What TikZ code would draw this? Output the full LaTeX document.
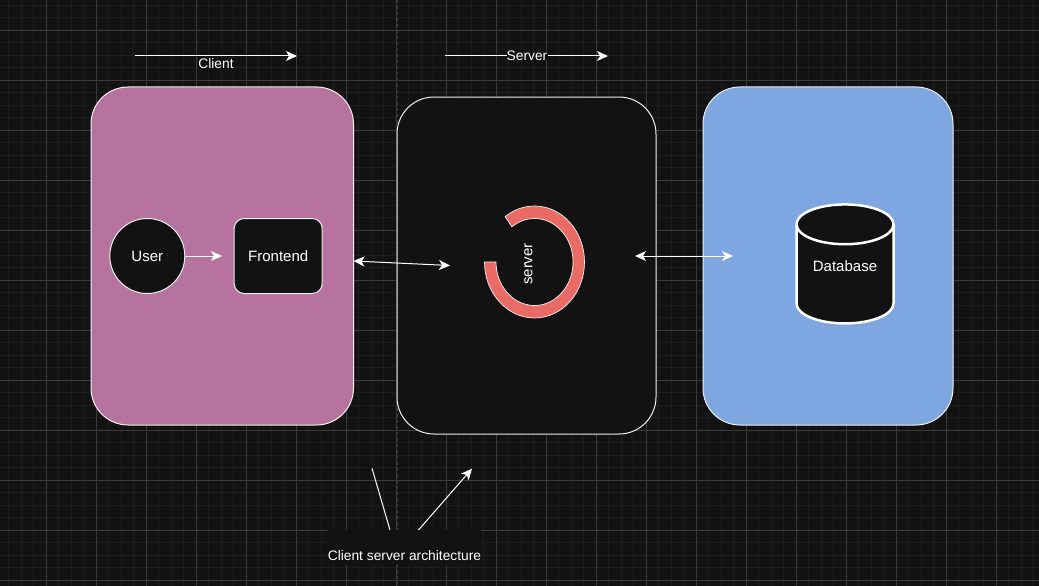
\documentclass[tikz,border=0pt]{standalone}
\usepackage{fontspec}
\setmainfont{Liberation Sans}
\usetikzlibrary{arrows.meta,shapes.geometric}
\definecolor{canvas}{HTML}{121212}
\definecolor{gridminor}{HTML}{1D1D1D}
\definecolor{gridmajor}{HTML}{3A3A3A}
\definecolor{clientfill}{HTML}{B5739D}
\definecolor{dbfill}{HTML}{7EA6E0}
\definecolor{ringfill}{HTML}{EA6B66}
\definecolor{boxline}{HTML}{F0F0F0}
\tikzset{
    >={Stealth[length=11pt,width=10pt,inset=3pt]},
    label/.style={text=white, font=\fontsize{13.8}{16}\selectfont, inner sep=0pt, outer sep=0pt},
    biglabel/.style={label, font=\fontsize{15}{17}\selectfont},
    tier/.style={rectangle, draw=boxline, line width=1pt, rounded corners=37pt, outer sep=0pt},
    link/.style={draw=white, line width=1pt}
}
\begin{document}
\begin{tikzpicture}[x=1pt, y=1pt]
        \useasboundingbox (0,0) rectangle (1039,-586);
        \fill[canvas] (0,0) rectangle (1039,-586);
        % Grid
        \foreach \i in {0,...,83} {
            \draw[gridminor, line width=0.8pt] ({8.5+12.5*\i},0) -- ({8.5+12.5*\i},-586);
        }
        \foreach \i in {0,...,47} {
            \draw[gridminor, line width=0.8pt] (0,{-5-12.5*\i}) -- (1039,{-5-12.5*\i});
        }
        \foreach \i in {0,...,20} {
            \draw[gridmajor, line width=0.8pt] ({46+50*\i},0) -- ({46+50*\i},-586);
        }
        \foreach \i in {0,...,11} {
            \draw[gridmajor, line width=0.8pt] (0,{-30-50*\i}) -- (1039,{-30-50*\i});
        }
        \draw[gridmajor, line width=1pt, dashed] (397,0) -- (397,-586);

        % Tiers
        \node[tier, fill=clientfill, minimum width=262.5pt, minimum height=338pt] (clientbox) at (222.25,-256) {};
        \node[tier, fill=canvas, minimum width=259pt, minimum height=337pt] (serverbox) at (526.5,-265.5) {};
        \node[tier, fill=dbfill, minimum width=250pt, minimum height=338pt] (dbbox) at (828,-256) {};

        % Nodes
        \node[circle, draw=boxline, line width=1pt, fill=canvas, biglabel, minimum size=75pt] (user) at (147.3,-256) {User};
        \node[rectangle, draw=boxline, line width=1pt, fill=canvas, rounded corners=10pt, biglabel, minimum width=88pt, minimum height=75pt] (frontend) at (278.2,-256) {Frontend};
        \node[cylinder, shape border rotate=90, aspect=0.62, draw=white, line width=2.5pt, fill=canvas, biglabel, minimum width=97pt, minimum height=119pt] (database) at (845,-274.5) {\phantom{Database}};
        \node[biglabel] (dbtext) at (845,-266) {Database};

        % Server ring
        \draw[draw=boxline, line width=0.7pt, fill=ringfill] (484.5,-262)
            arc[start angle=180, end angle=486, x radius=50pt, y radius=56pt]
            -- (511.9,-226.8)
            arc[start angle=486, end angle=180, x radius=38.5pt, y radius=43.5pt]
            -- cycle;
        \node[biglabel, rotate=90] (ringtext) at (528.5,-264) {server};

        % Free ends
        \coordinate (clientstart) at (134.5,-56);
        \coordinate (clientend) at (297,-56);
        \coordinate (serverstart) at (445,-56);
        \coordinate (serverend) at (608,-56);
        \coordinate (userout) at (222,-256);
        \coordinate (ringin) at (450,-265.5);
        \coordinate (ringout) at (635,-256);
        \coordinate (dbin) at (733,-256);
        \coordinate (leftend) at (372,-468.3);
        \coordinate (rightend) at (472,-468.7);

        % Edges
        \draw[->, link] (clientstart) -- (clientend);
        \draw[->, link] (serverstart) -- (serverend);
        \draw[->, link] (user) -- (userout);
        \draw[<->, link] ([yshift=-5pt]clientbox.east) -- (ringin);
        \draw[<->, link] (ringout) -- (dbin);

        % Labels
        \node[label, fill=canvas, minimum width=35pt] (clienttext) at (216,-63.5) {Client};
        \node[label, fill=canvas, minimum width=41pt] (servertext) at (527,-55.5) {Server};
        \node[label, fill=canvas, minimum width=153pt, text height=30pt, text depth=5pt] (archtext) at (404.5,-547.5) {Client server architecture};
        \draw[link] ([xshift=-14.5pt]archtext.north) -- (leftend);
        \draw[->, link] ([xshift=14pt]archtext.north) -- (rightend);
    \end{tikzpicture}
\end{document}
